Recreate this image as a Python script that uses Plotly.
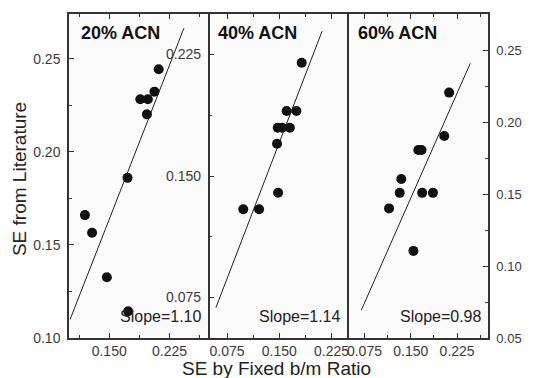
import plotly.graph_objects as go

# ---- data ----
panel_titles = ["20% ACN", "40% ACN", "60% ACN"]
slope_labels = ["Slope=1.10", "Slope=1.14", "Slope=0.98"]

x_20 = [0.1198, 0.1287, 0.1471, 0.1728, 0.1736, 0.1887, 0.1981, 0.1969, 0.2063, 0.2116]
y_20 = [0.1660, 0.1565, 0.1326, 0.1860, 0.1144, 0.2282, 0.2282, 0.2201, 0.2323, 0.2443]
fit_x_20 = [0.1014, 0.2430]
fit_y_20 = [0.1100, 0.2664]

x_40 = [0.0982, 0.1209, 0.1482, 0.1467, 0.1477, 0.1538, 0.1651, 0.1605, 0.1746, 0.1821]
y_40 = [0.1295, 0.1295, 0.1397, 0.1699, 0.1798, 0.1798, 0.1798, 0.1901, 0.1901, 0.2199]
fit_x_40 = [0.0590, 0.2114]
fit_y_40 = [0.0688, 0.2394]

x_60 = [0.1148, 0.1321, 0.1347, 0.1622, 0.1674, 0.1685, 0.1859, 0.1543, 0.2042, 0.2121]
y_60 = [0.1400, 0.1508, 0.1604, 0.1805, 0.1805, 0.1508, 0.1508, 0.1105, 0.1903, 0.2204]
fit_x_60 = [0.0699, 0.2464]
fit_y_60 = [0.0693, 0.2408]

x1_ticks = [0.150, 0.225]
x1_ticktext = ["0.150", "0.225"]
x1_minor = [0.1125, 0.1875, 0.2625]
x23_ticks = [0.075, 0.150, 0.225]
x23_ticktext = ["0.075", "0.150", "0.225"]
x2_minor = [0.1125, 0.1875]
x3_minor = [0.1125, 0.1875, 0.2625]

y1_ticks = [0.10, 0.15, 0.20, 0.25]
y1_ticktext = ["0.10", "0.15", "0.20", "0.25"]
y1_minor = [0.125, 0.175, 0.225]
y2_ticks = [0.075, 0.150, 0.225]
y2_ticktext = ["0.075", "0.150", "0.225"]
y2_minor = [0.1125, 0.1875]
y3_ticks = [0.05, 0.10, 0.15, 0.20, 0.25]
y3_ticktext = ["0.05", "0.10", "0.15", "0.20", "0.25"]
y3_minor = [0.075, 0.125, 0.175, 0.225]

x_title = "SE by Fixed b/m Ratio"
y_title = "SE from Literature"

# ---- layout geometry ----
W, H = 534, 378
L, R, T, B = 69, 37, 13, 40
pw = W - L - R
ph = H - T - B

def px(x):
    return (x - L) / pw

def py(y):
    return (H - B - y) / ph

FONT = "Liberation Sans, Arial, Helvetica, sans-serif"
AX = "#333333"
TXT = "#3a3a3a"

fig = go.Figure()

data = [(x_20, y_20, fit_x_20, fit_y_20),
        (x_40, y_40, fit_x_40, fit_y_40),
        (x_60, y_60, fit_x_60, fit_y_60)]
for i, (xs, ys, fx, fy) in enumerate(data):
    sfx = "" if i == 0 else str(i + 1)
    fig.add_trace(go.Scatter(x=fx, y=fy, mode="lines",
                             line=dict(color="#222222", width=1),
                             xaxis="x" + sfx, yaxis="y" + sfx, showlegend=False))
    fig.add_trace(go.Scatter(x=xs, y=ys, mode="markers",
                             marker=dict(color="#111111", size=10, line=dict(width=0)),
                             xaxis="x" + sfx, yaxis="y" + sfx, showlegend=False))

d1 = px(212.7)
d2 = px(355.0)

def xax(dom, rng, tv, tt, minor, anchor):
    return dict(domain=dom, range=rng, anchor=anchor, tickmode="array",
                tickvals=tv, ticktext=tt, ticks="inside", ticklen=5, tickwidth=1.2,
                tickcolor=AX, showline=True, linecolor=AX, linewidth=1.5,
                mirror="ticks", showgrid=False, zeroline=False,
                minor=dict(tickmode="array", tickvals=minor, ticks="inside",
                           ticklen=3, tickwidth=1.2, tickcolor=AX, showgrid=False),
                tickfont=dict(family=FONT, size=14, color=TXT), ticklabelstandoff=-1)

def yax(dom, rng, tv, tt, minor, anchor, side, size, mirror):
    return dict(domain=dom, range=rng, anchor=anchor, side=side, tickmode="array",
                tickvals=tv, ticktext=tt, ticks="inside", ticklen=5, tickwidth=1.2,
                tickcolor=AX, showline=True, linecolor=AX, linewidth=1.5,
                mirror=mirror, showgrid=False, zeroline=False,
                minor=dict(tickmode="array", tickvals=minor, ticks="inside",
                           ticklen=3, tickwidth=1.2, tickcolor=AX, showgrid=False),
                tickfont=dict(family=FONT, size=size, color=TXT), ticklabelstandoff=4)

fig.update_layout(
    width=W, height=H,
    margin=dict(l=L, r=R, t=T, b=B, pad=0),
    paper_bgcolor="white", plot_bgcolor="#fbfbfb",
    xaxis=xax([0, d1], [0.10, 0.275], x1_ticks, x1_ticktext, x1_minor, "y"),
    xaxis2=xax([d1, d2], [0.05, 0.25], x23_ticks, x23_ticktext, x2_minor, "y2"),
    xaxis3=xax([d2, 1], [0.05, 0.275], x23_ticks, x23_ticktext, x3_minor, "y3"),
    yaxis=yax([0, 1], [0.10, 0.274], y1_ticks, y1_ticktext, y1_minor, "x", "left", 14, False),
    yaxis2=yax([0, 1], [0.05, 0.25], y2_ticks, y2_ticktext, y2_minor, "x2", "left", 14, False),
    yaxis3=yax([0, 1], [0.05, 0.275], y3_ticks, y3_ticktext, y3_minor, "x3", "right", 13, True),
    font=dict(family=FONT),
)

title_x = [79, 219, 361.7]
slope_x = [206.7, 349.3, 493.3]
for i in range(3):
    fig.add_annotation(text="<b>%s</b>" % panel_titles[i], xref="paper", yref="paper",
                       x=px(title_x[i]), y=py(32), xanchor="left", yanchor="middle",
                       showarrow=False, font=dict(family=FONT, size=18, color="#111111"))
    fig.add_annotation(text=slope_labels[i], xref="paper", yref="paper",
                       x=px(slope_x[i]), y=py(316.7), xanchor="right", yanchor="middle",
                       showarrow=False, font=dict(family=FONT, size=16, color="#222222"))

fig.add_annotation(text=x_title, xref="paper", yref="paper", x=px(281), y=py(369),
                   xanchor="center", yanchor="middle", showarrow=False,
                   font=dict(family=FONT, size=19, color="#222222"))
fig.add_annotation(text=y_title, xref="paper", yref="paper", x=px(18.5), y=py(179),
                   xanchor="center", yanchor="middle", textangle=-90, showarrow=False,
                   font=dict(family=FONT, size=19, color="#222222"))

fig.write_html("out.html")
